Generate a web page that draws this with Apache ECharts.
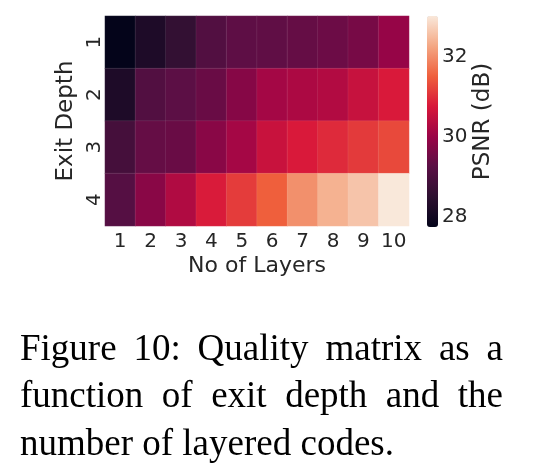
<!DOCTYPE html>
<html>
<head>
<meta charset="utf-8">
<script src="https://cdn.jsdelivr.net/npm/echarts@6/dist/echarts.min.js"></script>
<style>
html,body{margin:0;padding:0;background:#fff;}
#chart{width:548px;height:470px;}
</style>
</head>
<body>
<div id="chart"></div>
<script>
// ---- data ----
const layers = ['1','2','3','4','5','6','7','8','9','10'];
const exitDepths = ['1','2','3','4'];
const psnrDepth1 = [27.75, 28.22, 28.60, 29.12, 29.31, 29.33, 29.39, 29.47, 29.60, 29.97];
const psnrDepth2 = [28.22, 29.12, 29.28, 29.44, 29.78, 30.13, 30.23, 30.31, 30.55, 30.79];
const psnrDepth3 = [28.90, 29.39, 29.44, 29.81, 30.15, 30.57, 30.79, 30.97, 31.13, 31.29];
const psnrDepth4 = [29.18, 29.81, 30.28, 30.81, 31.15, 31.52, 32.03, 32.40, 32.61, 33.03];
const colorbarTicks = [28, 30, 32];
const psnrMin = 27.75, psnrMax = 33.03;
const captionLines = [
  'Figure 10: Quality matrix as a',
  'function of exit depth and the',
  'number of layered codes.'
];

const palette = ['#04041a','#2d1030','#5a0f45','#9a0447','#d8173a','#ef5f3c','#f4a783','#f9e8da'];

const rows = [psnrDepth1, psnrDepth2, psnrDepth3, psnrDepth4];
const heatData = [];
rows.forEach((row, yi) => row.forEach((v, xi) => heatData.push([xi, yi, v])));

const textColor = '#262626';
const sans = '"DejaVu Sans", sans-serif';

// ---- caption (justified) ----
const capFont = '37px "Liberation Serif"';
const mctx = document.createElement('canvas').getContext('2d');
mctx.font = capFont;
const capLeft = 20, capRight = 503;
const baselines = [361, 408, 456];
const graphics = [];
captionLines.forEach((line, li) => {
  const words = line.split(' ');
  const justify = li < captionLines.length - 1;
  const widths = words.map(w => mctx.measureText(w).width);
  const spaceW = mctx.measureText(' ').width;
  const total = widths.reduce((a, b) => a + b, 0);
  const gap = justify ? (capRight - capLeft - total) / (words.length - 1) : spaceW;
  let x = capLeft;
  words.forEach((w, i) => {
    graphics.push({
      type: 'text',
      x: x, y: baselines[li] - 11,
      style: { text: w, font: capFont, fill: '#000', textAlign: 'left', textVerticalAlign: 'middle' }
    });
    x += widths[i] + gap;
  });
});

const chart = echarts.init(document.getElementById('chart'), null, {renderer: 'canvas'});
chart.setOption({
  animation: false,
  backgroundColor: '#fff',
  grid: [
    {left: 105, top: 16, width: 304, height: 210},
    {left: 427, top: 16, width: 11, height: 211}
  ],
  xAxis: [
    {
      type: 'category', data: layers, gridIndex: 0,
      axisLine: {show: false}, axisTick: {show: false}, splitLine: {show: false},
      axisLabel: {color: textColor, fontFamily: sans, fontSize: 20, margin: 6, interval: 0},
      name: 'No of Layers', nameLocation: 'middle', nameGap: 29,
      nameTextStyle: {color: textColor, fontFamily: sans, fontSize: 22}
    },
    {type: 'value', gridIndex: 1, show: false, min: 0, max: 1}
  ],
  yAxis: [
    {
      type: 'category', data: exitDepths, gridIndex: 0, inverse: true,
      axisLine: {show: false}, axisTick: {show: false}, splitLine: {show: false},
      axisLabel: {color: textColor, fontFamily: sans, fontSize: 20, rotate: 90, margin: 0, interval: 0},
      name: 'Exit Depth', nameLocation: 'middle', nameGap: 27, nameRotate: 90,
      nameTextStyle: {color: textColor, fontFamily: sans, fontSize: 23}
    },
    {
      type: 'value', gridIndex: 1, position: 'right', min: psnrMin, max: psnrMax,
      axisLine: {show: false},
      axisTick: {show: true, length: 3, customValues: colorbarTicks, lineStyle: {color: textColor}},
      splitLine: {show: false},
      axisLabel: {color: textColor, fontFamily: sans, fontSize: 20, margin: 4, customValues: colorbarTicks},
      name: 'PSNR (dB)', nameLocation: 'middle', nameGap: 33, nameRotate: 90,
      nameTextStyle: {color: textColor, fontFamily: sans, fontSize: 23}
    }
  ],
  visualMap: {
    type: 'continuous', min: psnrMin, max: psnrMax, seriesIndex: 0,
    calculable: false, hoverLink: false,
    left: 427, top: 16, itemWidth: 11, itemHeight: 211, padding: 0,
    inRange: {color: palette}
  },
  series: [{
    type: 'heatmap', xAxisIndex: 0, yAxisIndex: 0, data: heatData,
    itemStyle: {borderColor: 'rgba(255,255,255,0.08)', borderWidth: 1},
    emphasis: {disabled: true}
  }],
  graphic: graphics
});
</script>
</body>
</html>
